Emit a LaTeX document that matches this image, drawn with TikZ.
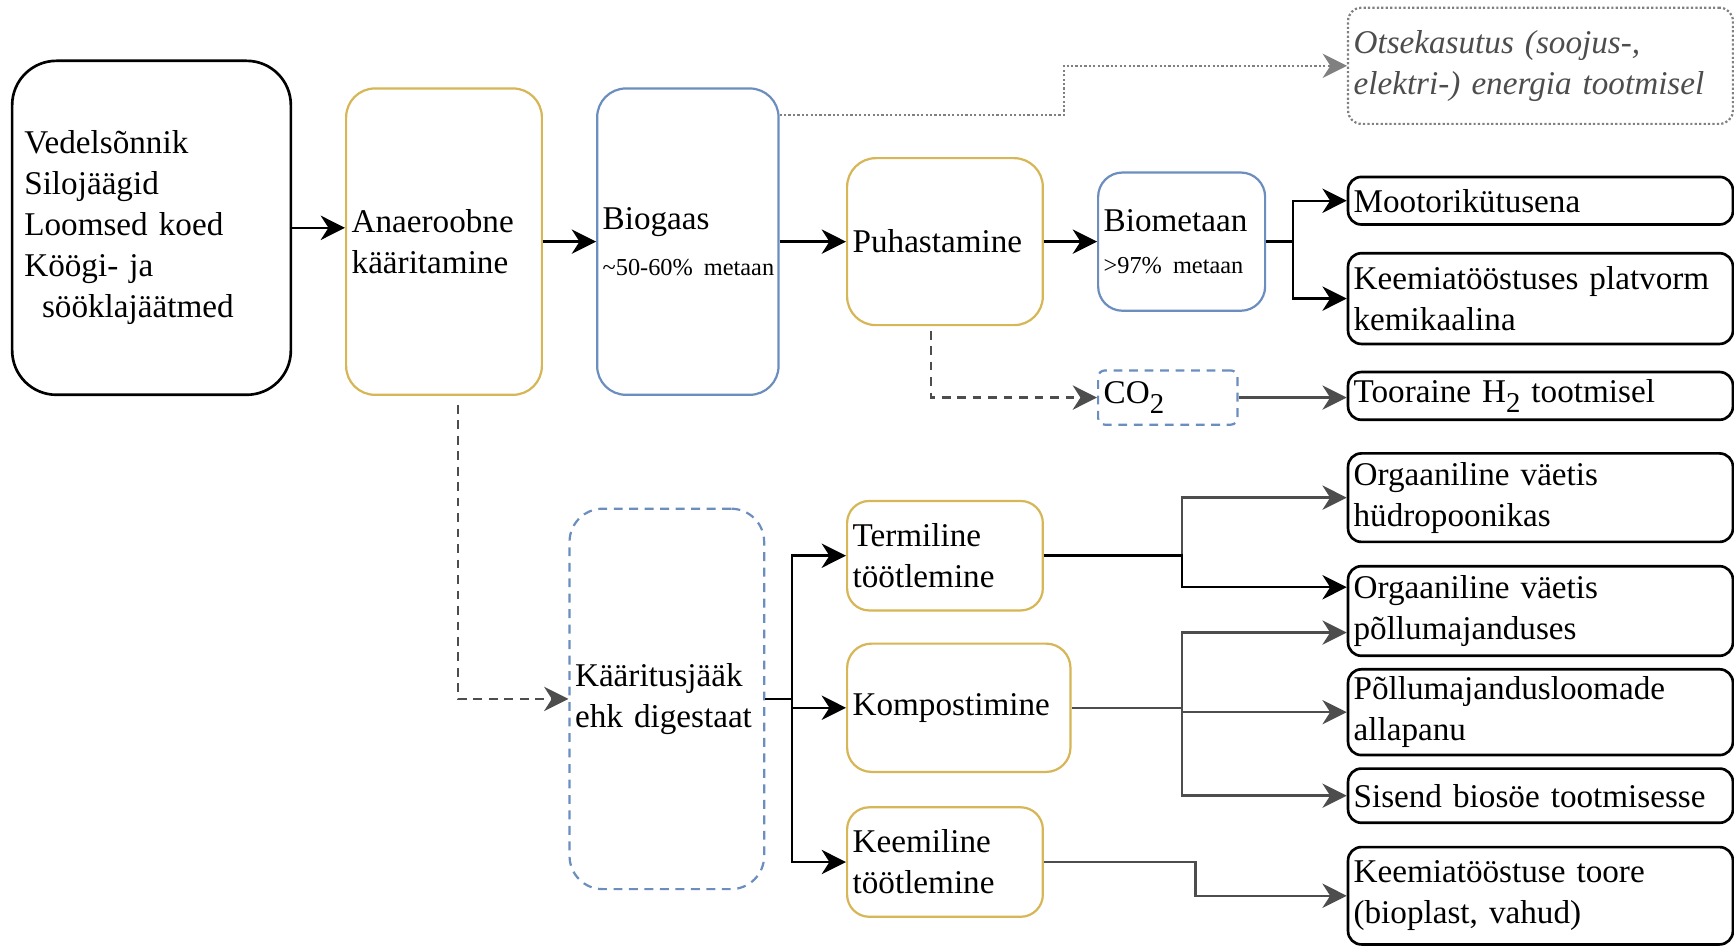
\documentclass[tikz,border=0pt]{standalone}
\usepackage{fontspec}
\setmainfont{Liberation Serif}
\usepackage{tikz}
\usetikzlibrary{arrows.meta, positioning, calc}
\definecolor{gold}{HTML}{D6B656}
\definecolor{steel}{HTML}{6C8EBF}
\definecolor{darkline}{HTML}{4D4D4D}
\definecolor{dotline}{HTML}{808080}
\newcommand{\mainsz}{\fontsize{15}{18.5}\selectfont}
\newcommand{\smallsz}{\fontsize{11}{13}\selectfont}
\newcommand{\lowidx}[1]{\raisebox{-0.3em}{\fontsize{13}{13}\selectfont #1}}
\tikzstyle{srcbox} = [rectangle, rounded corners=20pt, draw=black, line width=1.2pt, align=left, inner xsep=5.5pt, text=black]
\tikzstyle{goldbox} = [rectangle, rounded corners=13pt, draw=gold, line width=1pt, align=left, inner xsep=2.5pt, text=black]
\tikzstyle{bluebox} = [rectangle, rounded corners=13pt, draw=steel, line width=1pt, align=left, inner xsep=2.5pt, text=black]
\tikzstyle{bluedash} = [bluebox, dash pattern=on 4pt off 3pt]
\tikzstyle{outbox} = [rectangle, rounded corners=6pt, draw=black, line width=1.2pt, align=left, inner xsep=2.5pt, text width=169pt, text=black]
\tikzstyle{dotbox} = [rectangle, rounded corners=6pt, draw=dotline, line width=1pt, dash pattern=on 1pt off 1pt, align=left, inner xsep=2.5pt, text width=169pt, text=darkline, font=\mainsz\itshape]
\tikzstyle{arr} = [-{Stealth[length=11pt, width=11pt, inset=3.5pt]}, line width=1.1pt, draw=black]
\tikzstyle{grayarr} = [arr, draw=darkline]
\tikzstyle{dasharr} = [grayarr, dash pattern=on 4pt off 3pt]
\tikzstyle{dotarr} = [arr, draw=dotline, line width=1pt, dash pattern=on 1pt off 1pt]
\begin{document}
\begin{tikzpicture}[x=0.5pt, y=-0.5pt, font=\mainsz]
\useasboundingbox (0,0) rectangle (1568,856.3);
\node (src) [srcbox, text width=115pt, minimum height=151pt] at (137,206) {Vedelsõnnik\\Silojäägid\\Loomsed koed\\Köögi- ja\\\hspace*{8pt}sööklajäätmed};
\node (anaer) [goldbox, text width=83.5pt, minimum height=138.5pt] at (401.5,218.5) {Anaeroobne\\kääritamine};
\node (biogaas) [bluebox, text width=77pt, minimum height=138.5pt] at (622,218.5) {Biogaas\\[2pt]{\smallsz\mbox{\textasciitilde 50-60\% metaan}}};
\node (puh) [goldbox, text width=83.5pt, minimum height=75.5pt] at (854.5,218.5) {Puhastamine};
\node (biomet) [bluebox, rounded corners=11pt, text width=70.5pt, minimum height=62.5pt] at (1068.5,218.5) {Biometaan\\[0.5pt]{\smallsz\mbox{>97\% metaan}}};
\node (otsek) [dotbox, minimum height=52.5pt] at (1393,59.5) {Otsekasutus (soojus-,\\elektri-) energia tootmisel};
\node (mootor) [outbox, minimum height=21.5pt] at (1393,181.5) {Mootorikütusena};
\node (keemplat) [outbox, minimum height=41pt] at (1393,270) {Keemiatööstuses platvorm\\kemikaalina};
\node (co2) [bluedash, rounded corners=3pt, text width=58pt, minimum height=24.5pt] at (1056,359.5) {CO\lowidx{2}};
\node (tooraine) [outbox, minimum height=21pt] at (1393,358) {Tooraine H\lowidx{2} tootmisel};
\node (kaar) [bluedash, rounded corners=15pt, text width=83pt, minimum height=172pt] at (603,632) {Kääritusjääk\\ehk digestaat};
\node (term) [goldbox, rounded corners=10pt, text width=83.5pt, minimum height=49.5pt] at (854.5,502.5) {Termiline\\töötlemine};
\node (kompost) [goldbox, rounded corners=11pt, text width=96pt, minimum height=58pt] at (867,640) {Kompostimine};
\node (keemil) [goldbox, rounded corners=10pt, text width=83.5pt, minimum height=49.5pt] at (854.5,779.5) {Keemiline\\töötlemine};
\node (org1) [outbox, minimum height=40pt] at (1393,450) {Orgaaniline väetis\\hüdropoonikas};
\node (org2) [outbox, minimum height=40.5pt] at (1393,552.5) {Orgaaniline väetis\\põllumajanduses};
\node (allapanu) [outbox, minimum height=38pt] at (1393,644) {Põllumajandusloomade\\allapanu};
\node (sisend) [outbox, minimum height=24.5pt] at (1393,719.5) {Sisend biosöe tootmisesse};
\node (toore) [outbox, minimum height=44pt] at (1393,810) {Keemiatööstuse toore\\(bioplast, vahud)};
\coordinate (otsjog) at (962,104);
\coordinate (bsplit) at (1169,218.5);
\coordinate (ksplit) at (716,632);
\coordinate (tsplit) at (1069,502.5);
\coordinate (psplit) at (1069,640);
\coordinate (csplit) at (1081,779.5);
\draw [dotarr] (biogaas.east |- otsjog) -- (otsjog) |- (otsek.west);
\draw [dasharr] ([xshift=6.25pt, yshift=-4pt]anaer.south) |- (kaar.west);
\draw [dasharr] ([xshift=-6.25pt, yshift=-2pt]puh.south) |- (co2.west);
\draw [grayarr] (co2.east) -- (co2.east -| tooraine.west);
\draw [grayarr] (term.east) -- (tsplit) |- (org1.west);
\draw [grayarr] (kompost.east) -- (psplit) |- ([yshift=-9.75pt]org2.west);
\draw [grayarr] (psplit) |- (allapanu.west);
\draw [grayarr] (psplit) |- (sisend.west);
\draw [grayarr] (keemil.east) -- (csplit) |- (toore.west);
\draw [arr] (src.east) -- (src.east -| anaer.west);
\draw [arr] (anaer.east) -- (biogaas.west);
\draw [arr] (biogaas.east) -- (puh.west);
\draw [arr] (puh.east) -- (biomet.west);
\draw [arr] (biomet.east) -- (bsplit) |- (mootor.west);
\draw [arr] (bsplit) |- (keemplat.west);
\draw [arr] (kaar.east) -- (ksplit) |- (term.west);
\draw [arr] (ksplit) |- (kompost.west);
\draw [arr] (ksplit) |- (keemil.west);
\draw [arr] (term.east) -- (tsplit) |- ([yshift=10.75pt]org2.west);
\end{tikzpicture}
\end{document}
